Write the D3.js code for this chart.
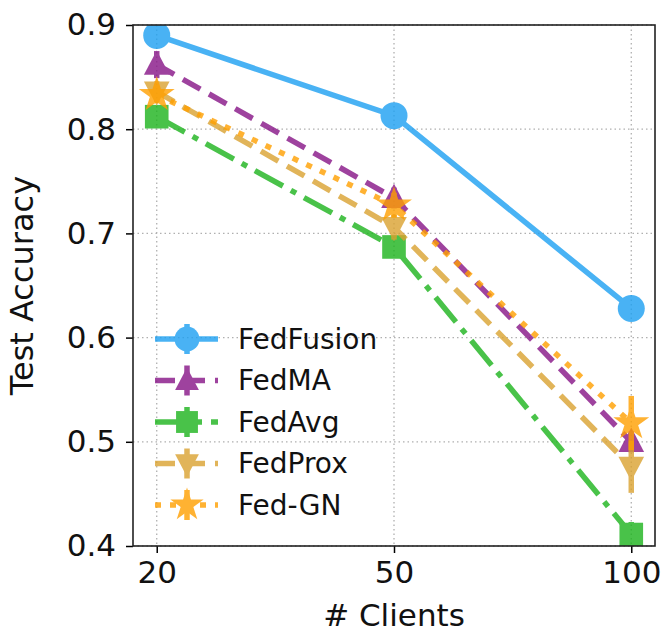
<!DOCTYPE html>
<html>
<head>
<meta charset="utf-8">
<script src="https://cdn.jsdelivr.net/npm/d3@7"></script>
<style>
  body { margin: 0; background: #fff; }
  svg text { font-family: "DejaVu Sans", sans-serif; fill: #111; }
</style>
</head>
<body>
<svg id="chart" width="667" height="636"></svg>
<script>
// data
const clients = ["20", "50", "100"];
const yTicks = [0.4, 0.5, 0.6, 0.7, 0.8, 0.9];

const fedFusion = [0.890, 0.813, 0.628];
const fedMA = [0.862, 0.734, 0.500];
const fedAvg = [0.812, 0.687, 0.411];
const fedProx = [0.836, 0.706, 0.476];
const fedGN = [0.833, 0.727, 0.518];

const errFusion = [0.005, 0.005, 0.008];
const errMA = [0.013, 0.010, 0.010];
const errAvg = [0.008, 0.010, 0.012];
const errProx = [0.010, 0.012, 0.025];
const errGN = [0.008, 0.012, 0.026];

const seriesNames = ["FedFusion", "FedMA", "FedAvg", "FedProx", "Fed-GN"];

const series = [
  { name: seriesNames[0], values: fedFusion, err: errFusion, color: "#1ca0f2", dash: null, symbol: "circle" },
  { name: seriesNames[1], values: fedMA, err: errMA, color: "#871487", dash: "20,10", symbol: "triUp" },
  { name: seriesNames[2], values: fedAvg, err: errAvg, color: "#1cb41c", dash: "32,9,6,9", symbol: "square" },
  { name: seriesNames[3], values: fedProx, err: errProx, color: "#daa230", dash: "20,10", symbol: "triDown" },
  { name: seriesNames[4], values: fedGN, err: errGN, color: "#ffa000", dash: "6,9", symbol: "star" },
];

const margin = { top: 25, right: 12, bottom: 90, left: 133 };
const W = 667, H = 636;
const width = W - margin.left - margin.right;
const height = H - margin.top - margin.bottom;
const lw = 5.5;

const svg = d3.select("#chart");
const g = svg.append("g").attr("transform", `translate(${margin.left},${margin.top})`);

const x = d3.scaleLinear().domain([-0.1, clients.length - 0.9]).range([0, width]);
const y = d3.scaleLinear().domain([0.4, 0.9]).range([height, 0]);

svg.append("defs").append("clipPath").attr("id", "plotclip")
  .append("rect").attr("width", width).attr("height", height);

// grid
const grid = g.append("g");
grid.selectAll(".gx").data(clients).join("line")
  .attr("x1", (d, i) => x(i)).attr("x2", (d, i) => x(i))
  .attr("y1", 0).attr("y2", height)
  .attr("stroke", "#b0b0b0").attr("stroke-width", 1.3).attr("stroke-dasharray", "1.5,3");
grid.selectAll(".gy").data(yTicks).join("line")
  .attr("x1", 0).attr("x2", width)
  .attr("y1", (d) => y(d)).attr("y2", (d) => y(d))
  .attr("stroke", "#b0b0b0").attr("stroke-width", 1.3).attr("stroke-dasharray", "1.5,3");

function markerPath(type, s) {
  if (type === "circle") return d3.symbol(d3.symbolCircle, Math.PI * s * s)();
  if (type === "square") return d3.symbol(d3.symbolSquare, (s * 1.75) ** 2)();
  if (type === "triUp") return `M0,${-s * 1.05}L${s * 0.95},${s * 0.75}L${-s * 0.95},${s * 0.75}Z`;
  if (type === "triDown") return `M0,${s * 1.05}L${s * 0.95},${-s * 0.75}L${-s * 0.95},${-s * 0.75}Z`;
  if (type === "star") return d3.symbol(d3.symbolStar, s * s * 2.2)();
}

const plot = g.append("g").attr("clip-path", "url(#plotclip)");

series.forEach((s) => {
  const sg = plot.append("g").attr("opacity", 0.8);
  const line = d3.line().x((d, i) => x(i)).y((d) => y(d));
  sg.append("path")
    .datum(s.values)
    .attr("d", line)
    .attr("fill", "none")
    .attr("stroke", s.color)
    .attr("stroke-width", lw)
    .attr("stroke-dasharray", s.dash);
  sg.selectAll(".err").data(s.values).join("line")
    .attr("x1", (d, i) => x(i)).attr("x2", (d, i) => x(i))
    .attr("y1", (d, i) => y(d - s.err[i])).attr("y2", (d, i) => y(d + s.err[i]))
    .attr("stroke", s.color).attr("stroke-width", lw);
  sg.selectAll(".mk").data(s.values).join("path")
    .attr("transform", (d, i) => `translate(${x(i)},${y(d)})`)
    .attr("d", markerPath(s.symbol, 13.5))
    .attr("fill", s.color);
});

// axes
const yAxis = g.append("g")
  .call(d3.axisLeft(y).tickValues(yTicks).tickFormat(d3.format(".1f")).tickSize(7).tickPadding(10));
const xAxis = g.append("g").attr("transform", `translate(0,${height})`)
  .call(d3.axisBottom(x).tickValues([0, 1, 2]).tickFormat((d) => clients[d]).tickSize(7).tickPadding(8));
[xAxis, yAxis].forEach((ax) => {
  ax.select(".domain").remove();
  ax.selectAll(".tick line").attr("stroke", "#000").attr("stroke-width", 1.5);
  ax.selectAll(".tick text").style("font-size", "31px");
});

// frame
g.append("rect").attr("width", width).attr("height", height)
  .attr("fill", "none").attr("stroke", "#222").attr("stroke-width", 1.6);

// labels
g.append("text")
  .attr("transform", `translate(${-100},${height / 2}) rotate(-90)`)
  .attr("text-anchor", "middle")
  .style("font-size", "32px")
  .text("Test Accuracy");
g.append("text")
  .attr("x", width / 2).attr("y", height + 80)
  .attr("text-anchor", "middle")
  .style("font-size", "31px")
  .text("# Clients");

// legend
const legend = g.append("g").attr("transform", `translate(${155 - margin.left},${339 - margin.top})`);
const rowH = 41.5;
series.forEach((s, i) => {
  const lg = legend.append("g").attr("transform", `translate(0,${i * rowH})`);
  const hg = lg.append("g").attr("opacity", 0.8);
  hg.append("line").attr("x1", 0).attr("x2", 63).attr("y1", 0).attr("y2", 0)
    .attr("stroke", s.color).attr("stroke-width", lw).attr("stroke-dasharray", s.dash);
  hg.append("line").attr("x1", 32).attr("x2", 32).attr("y1", -15).attr("y2", 15)
    .attr("stroke", s.color).attr("stroke-width", lw);
  hg.append("path").attr("transform", "translate(32,0)")
    .attr("d", markerPath(s.symbol, 12.5)).attr("fill", s.color);
  lg.append("text").attr("x", 83).attr("y", 0).attr("dy", "0.35em")
    .style("font-size", "28px").text(s.name);
});
</script>
</body>
</html>
